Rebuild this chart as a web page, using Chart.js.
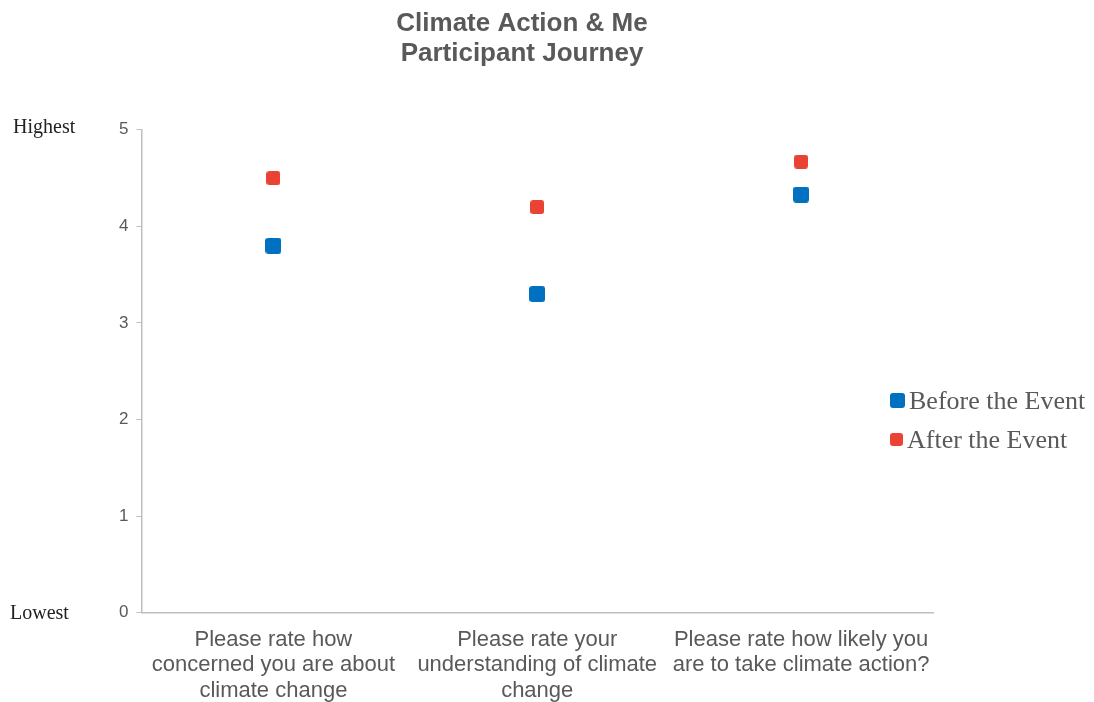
<!DOCTYPE html>
<html>
<head>
<meta charset="utf-8">
<script src="https://cdn.jsdelivr.net/npm/chart.js@4.4.1/dist/chart.umd.min.js"></script>
<style>
    html, body { margin: 0; padding: 0; background: #ffffff; }
    #wrap { position: relative; width: 1094px; height: 702px; }
    #legend { position: absolute; left: 890px; top: 381px; font-family: "Liberation Serif", "Times New Roman", serif; font-size: 26px; color: #595959; }
    .legend-item { display: flex; align-items: center; height: 39px; }
    .legend-box { display: inline-block; border-radius: 3px; margin-right: 4px; }
</style>
</head>
<body>
<div id="wrap">
    <canvas id="journey-chart" width="1094" height="702"></canvas>
    <div id="legend"></div>
</div>
<script>
// chart data
const questions = [
    ["Please rate how", "concerned you are about", "climate change"],
    ["Please rate your", "understanding of climate", "change"],
    ["Please rate how likely you", "are to take climate action?"],
];
const beforeScores = [3.8, 3.3, 4.33];
const afterScores = [4.5, 4.2, 4.67];
const yTicks = [0, 1, 2, 3, 4, 5];

const BLUE = "#0070C0";
const RED = "#EA4335";

// small rounded square used as the point marker
function makeMarker(color, size) {
    const c = document.createElement("canvas");
    c.width = size;
    c.height = size;
    const ctx = c.getContext("2d");
    ctx.fillStyle = color;
    ctx.beginPath();
    ctx.roundRect(0, 0, size, size, 3);
    ctx.fill();
    return c;
}

const datasets = [
    { label: "Before the Event", data: beforeScores, color: BLUE, size: 16 },
    { label: "After the Event", data: afterScores, color: RED, size: 14 },
];

// "Highest" / "Lowest" next to the y axis
const endLabels = {
    id: "endLabels",
    afterDraw(chart) {
        const y = chart.scales.y;
        const ctx = chart.ctx;
        ctx.save();
        ctx.font = '20px "Liberation Serif", "Times New Roman", serif';
        ctx.fillStyle = "#222222";
        ctx.textAlign = "left";
        ctx.textBaseline = "middle";
        ctx.fillText("Highest", 13, y.getPixelForValue(yTicks[yTicks.length - 1]) - 2);
        ctx.fillText("Lowest", 10, y.getPixelForValue(yTicks[0]) + 1);
        ctx.restore();
    },
};

const chart = new Chart(document.getElementById("journey-chart"), {
    type: "line",
    data: {
        labels: questions,
        datasets: datasets.map((d) => ({
            label: d.label,
            data: d.data,
            showLine: false,
            pointStyle: makeMarker(d.color, d.size),
            backgroundColor: d.color,
            borderColor: d.color,
        })),
    },
    options: {
        responsive: false,
        animation: false,
        events: [],
        layout: { padding: { left: 111, right: 161, top: 0, bottom: -8 } },
        plugins: {
            legend: { display: false },
            tooltip: { enabled: false },
            title: {
                display: true,
                text: ["Climate Action & Me", "Participant Journey"],
                color: "#595959",
                font: { family: '"Liberation Sans", Arial, sans-serif', size: 26, weight: "bold", lineHeight: 1.15 },
                padding: { top: 9, bottom: 61 },
            },
        },
        scales: {
            x: {
                type: "category",
                offset: true,
                grid: { display: false },
                border: { color: "#BFBFBF", width: 1.5 },
                ticks: {
                    color: "#595959",
                    font: { family: '"Liberation Sans", Arial, sans-serif', size: 22, lineHeight: 1.14 },
                    padding: 7,
                    maxRotation: 0,
                    autoSkip: false,
                },
            },
            y: {
                min: yTicks[0],
                max: yTicks[yTicks.length - 1],
                afterBuildTicks: (scale) => {
                    scale.ticks = yTicks.map((v) => ({ value: v }));
                },
                grid: { drawOnChartArea: false, drawTicks: true, tickLength: 5, color: "#BFBFBF" },
                border: { color: "#BFBFBF", width: 1.5 },
                ticks: {
                    color: "#595959",
                    font: { family: '"Liberation Sans", Arial, sans-serif', size: 17 },
                    padding: 8,
                },
            },
        },
    },
    plugins: [endLabels],
});

// legend built from the datasets
const legendEl = document.getElementById("legend");
datasets.forEach((d) => {
    const item = document.createElement("div");
    item.className = "legend-item";
    item.innerHTML = `<span class="legend-box" style="width:${d.size - 1}px;height:${d.size - 1}px;background:${d.color}"></span><span>${d.label}</span>`;
    legendEl.appendChild(item);
});
</script>
</body>
</html>
